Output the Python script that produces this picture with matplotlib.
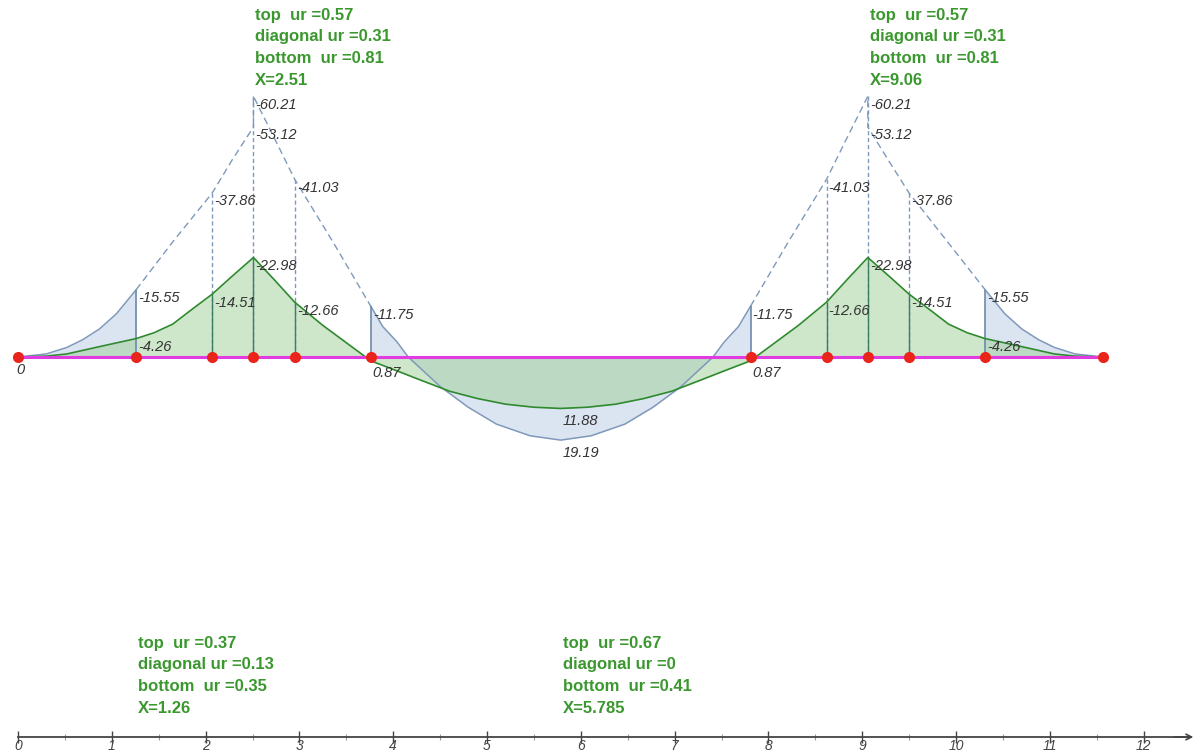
"""
Bending moment envelope along a continuous beam with utilisation ratios.
"""

import matplotlib
matplotlib.use('Agg')
import matplotlib.pyplot as plt
import numpy as np

plt.rcParams.update({
    'font.family': ['Liberation Sans', 'DejaVu Sans'],
    'figure.dpi': 100,
})

COLORS = {
    'beam': '#e03ce0', 'node': '#e8241c', 'blue': '#7f99bb',
    'blue_fill': '#dbe5f1', 'green': '#2f8a2f', 'green_fill': '#9fd196',
    'label': '#333333', 'note': '#3a982e', 'axis': '#444444',
}

# nodes along the beam (m)
nodes = [0, 1.26, 2.07, 2.51, 2.95, 3.76, 7.81, 8.62, 9.06, 9.50, 10.31, 11.57]

# envelope (blue); hogging is negative
blue_x = [0, 0.3, 0.52, 0.69, 0.87, 1.05, 1.26, 1.65, 2.07, 2.28, 2.51, 2.51, 2.73, 2.95,
          3.36, 3.76, 3.89, 4.04, 4.16, 4.5, 4.8, 5.1, 5.46, 5.785, 6.11, 6.47, 6.77,
          7.07, 7.41, 7.53, 7.68, 7.81, 8.21, 8.62, 8.84, 9.06, 9.06, 9.28, 9.50, 9.91,
          10.31, 10.52, 10.70, 10.88, 11.05, 11.27, 11.57]
blue_m = [0, -0.7, -2.2, -4.0, -6.5, -10.0, -15.55, -26.6, -37.86, -45.4, -53.12, -60.21,
          -50.7, -41.03, -26.5, -11.75, -7.0, -3.5, 0, 6.8, 11.6, 15.5, 18.2, 19.19, 18.2,
          15.5, 11.6, 6.8, 0, -3.5, -7.0, -11.75, -26.5, -41.03, -50.7, -60.21, -53.12,
          -45.4, -37.86, -26.6, -15.55, -10.0, -6.5, -4.0, -2.2, -0.7, 0]

# service curve (green)
green_x = [0, 0.3, 0.52, 0.87, 1.26, 1.45, 1.65, 1.83, 2.07, 2.28, 2.51, 2.73, 2.95, 3.25,
           3.50, 3.76, 4.04, 4.3, 4.6, 4.9, 5.2, 5.5, 5.785, 6.07, 6.37, 6.67, 6.97, 7.27,
           7.53, 7.81, 8.07, 8.32, 8.62, 8.84, 9.06, 9.29, 9.50, 9.74, 9.92, 10.12, 10.31,
           10.70, 11.05, 11.27, 11.57]
green_m = [0, -0.2, -0.7, -2.4, -4.26, -5.6, -7.6, -10.6, -14.51, -18.6, -22.98, -17.9,
           -12.66, -7.3, -3.3, 0.87, 3.2, 5.4, 7.9, 9.6, 10.9, 11.6, 11.88, 11.6, 10.9, 9.6,
           7.9, 5.4, 3.2, 0.87, -3.3, -7.3, -12.66, -17.9, -22.98, -18.6, -14.51, -10.6,
           -7.6, -5.6, -4.26, -2.4, -0.7, -0.2, 0]

# spans where the envelope is filled (elsewhere it is dashed)
filled_spans = [(0, 1.26), (3.76, 7.81), (10.31, 11.57)]
dashed_spans = [(1.26, 3.76), (7.81, 10.31)]

# vertical ordinates: solid blue, dashed blue + green
solid_x = [1.26, 3.76, 7.81, 10.31]
solid_blue = [-15.55, -11.75, -11.75, -15.55]
dash_x = [2.07, 2.51, 2.95, 8.62, 9.06, 9.50]
dash_blue = [-37.86, -60.21, -41.03, -41.03, -60.21, -37.86]
dash_green = [-14.51, -22.98, -12.66, -12.66, -22.98, -14.51]

# value labels
label_x = [1.26, 1.26, 2.07, 2.07, 2.51, 2.51, 2.51, 2.95, 2.95, 3.76, 3.76, 5.785, 5.785,
           7.81, 7.81, 8.62, 8.62, 9.06, 9.06, 9.06, 9.50, 9.50, 10.31, 10.31]
label_v = [-15.55, -4.26, -37.86, -14.51, -60.21, -53.12, -22.98, -41.03, -12.66, -11.75,
           0.87, 11.88, 19.19, -11.75, 0.87, -41.03, -12.66, -60.21, -53.12, -22.98,
           -37.86, -14.51, -15.55, -4.26]

# utilisation notes
note_x = [2.51, 9.06, 1.26, 5.785]
note_top = [0.57, 0.57, 0.37, 0.67]
note_diag = [0.31, 0.31, 0.13, 0]
note_bottom = [0.81, 0.81, 0.35, 0.41]
note_row = ['top', 'top', 'bottom', 'bottom']


def plot_moments(fname):
    fig = plt.figure(figsize=(11.99, 7.53))
    ax = fig.add_axes([0, 0, 1, 1])
    ax.set_xlim(-18 / 93.8, (1199 - 18) / 93.8)
    ax.set_ylim((753 - 357) / 4.33, -357 / 4.33)   # sagging downwards
    ax.axis('off')

    bx, bm = np.array(blue_x), np.array(blue_m)
    gx, gm = np.array(green_x), np.array(green_m)

    # blue envelope: fill + solid line in the filled spans, dashed elsewhere
    for a, b in filled_spans:
        k = (bx >= a) & (bx <= b)
        ax.fill_between(bx[k], bm[k], 0, color=COLORS['blue_fill'], lw=0, zorder=1)
        ax.plot(bx[k], bm[k], color=COLORS['blue'], lw=1.1, zorder=4)
    for a, b in dashed_spans:
        k = (bx >= a) & (bx <= b)
        ax.plot(bx[k], bm[k], color=COLORS['blue'], lw=1.0, ls=(0, (5, 3)), zorder=4)

    # green curve
    ax.fill_between(gx, gm, 0, color=COLORS['green_fill'], alpha=0.5, lw=0, zorder=2)
    ax.plot(gx, gm, color=COLORS['green'], lw=1.2, zorder=5)

    # ordinates
    ax.vlines(solid_x, 0, solid_blue, color='#6d89ad', lw=1.2, zorder=4)
    ax.vlines(dash_x, 0, dash_blue, color=COLORS['blue'], lw=1.0, linestyles=(0, (3, 2)), zorder=3)
    ax.vlines(dash_x, 0, dash_green, color='#3f7f66', lw=1.0, zorder=4)

    # beam and nodes
    ax.plot([nodes[0], nodes[-1]], [0, 0], color=COLORS['beam'], lw=2.2, zorder=6)
    ax.plot(nodes, [0] * len(nodes), 'o', color=COLORS['node'], ms=7, zorder=7)

    # value labels
    for x, v in zip(label_x, label_v):
        ax.annotate(f'{v:g}', (x, v), xytext=(1.5, -1 if v < 0 else -4),
                    textcoords='offset points', ha='left', va='top', fontsize=10.5,
                    style='italic', color=COLORS['label'], zorder=8)
    ax.annotate('0', (0, 0), xytext=(-1, -4), textcoords='offset points', ha='left',
                va='top', fontsize=10.5, style='italic', color=COLORS['label'])

    # utilisation notes
    tr = ax.get_xaxis_transform()
    for x, t, d, b, row in zip(note_x, note_top, note_diag, note_bottom, note_row):
        txt = f'top  ur ={t:g}\ndiagonal ur ={d:g}\nbottom  ur ={b:g}\nX={x:g}'
        y = 0.990 if row == 'top' else 0.156
        ax.text(x + 0.02, y, txt, transform=tr, ha='left', va='top', fontsize=12,
                fontweight='bold', color=COLORS['note'], linespacing=1.56)

    # distance axis at the bottom
    ax2 = fig.add_axes([0, 16 / 753, 1, 0.04])
    ax2.set_xlim(ax.get_xlim())
    ax2.patch.set_alpha(0)
    for s in ['top', 'left', 'right']:
        ax2.spines[s].set_visible(False)
    ax2.spines['bottom'].set_bounds(0, 12.48)
    ax2.spines['bottom'].set_color(COLORS['axis'])
    ax2.spines['bottom'].set_linewidth(1.3)
    ax2.set_yticks([])
    ax2.set_xticks(range(13))
    ax2.set_xticks(np.arange(0.5, 12.5, 1), minor=True)
    ax2.tick_params(axis='x', which='major', direction='inout', length=9, width=1,
                    color=COLORS['axis'], labelsize=10, pad=-3, labelcolor=COLORS['axis'])
    ax2.tick_params(axis='x', which='minor', direction='inout', length=5, width=0.8,
                    color='#999999')
    for t in ax2.get_xticklabels():
        t.set_style('italic')
    ax2.annotate('', xy=(12.56, 0), xytext=(12.3, 0), xycoords=('data', 'axes fraction'),
                 arrowprops=dict(arrowstyle='->', color=COLORS['axis'], lw=1.2))

    fig.savefig(fname, dpi=100)
    plt.close(fig)


if __name__ == "__main__":
    plot_moments('out.png')
